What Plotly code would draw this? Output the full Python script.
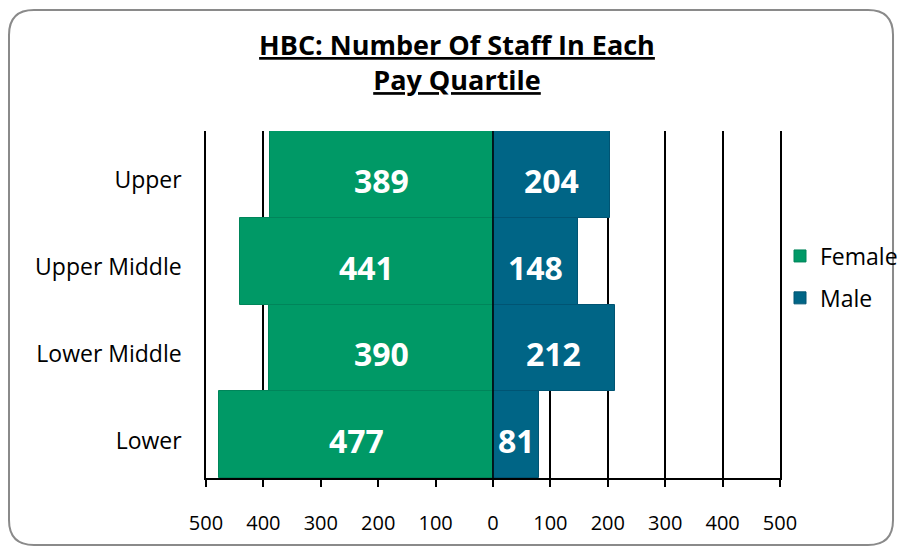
import plotly.graph_objects as go

# Pay quartiles, top to bottom as shown
quartiles = ["Upper", "Upper Middle", "Lower Middle", "Lower"]
female = [389, 441, 390, 477]
male = [204, 148, 212, 81]
tick_vals = [-500, -400, -300, -200, -100, 0, 100, 200, 300, 400, 500]
tick_text = ["500", "400", "300", "200", "100", "0", "100", "200", "300", "400", "500"]

GREEN = "#009966"
BLUE = "#006586"
FONT = "Open Sans"

W, H = 897, 547
L, T = 206, 131
R = W - 780
B = H - 478
pw, ph = W - L - R, H - T - B


def px(x):
    # screen pixel -> paper x
    return (x - L) / pw


def py(y):
    # screen pixel -> paper y
    return (H - B - y) / ph


def rounded_rect(x0, y0, x1, y1, r):
    pts = [
        ("M", x0 + r, y0), ("L", x1 - r, y0), ("Q", x1, y0, x1, y0 + r),
        ("L", x1, y1 - r), ("Q", x1, y1, x1 - r, y1),
        ("L", x0 + r, y1), ("Q", x0, y1, x0, y1 - r),
        ("L", x0, y0 + r), ("Q", x0, y0, x0 + r, y0),
    ]
    out = []
    for p in pts:
        cmd, coords = p[0], p[1:]
        xy = []
        for i in range(0, len(coords), 2):
            xy.append(f"{px(coords[i]):.4f},{py(coords[i + 1]):.4f}")
        out.append(cmd + " " + " ".join(xy))
    return " ".join(out) + " Z"


fig = go.Figure()
fig.add_trace(go.Bar(
    y=quartiles, x=[-v for v in female], orientation="h", name="Female", legendgroup="f",
    marker=dict(color=GREEN, line=dict(color="#00855a", width=1)),
))
fig.add_trace(go.Bar(
    y=quartiles, x=male, orientation="h", name="Male", legendgroup="m",
    marker=dict(color=BLUE, line=dict(color="#005473", width=1)),
))

# value labels, centred in each bar and nudged down a little like the original
labels = []
for q, f, m in zip(quartiles, female, male):
    for xv, val in ((-f / 2, f), (m / 2, m)):
        labels.append(dict(
            x=xv, y=q, xref="x", yref="y", text=str(val), showarrow=False,
            yshift=-6, font=dict(family=FONT, size=32, color="white", weight="bold"),
        ))

fig.update_layout(
    width=W, height=H,
    margin=dict(l=L, r=R, t=T, b=B, autoexpand=False),
    barmode="relative", bargap=0,
    paper_bgcolor="white", plot_bgcolor="white",
    font=dict(family=FONT, size=20, color="black"),
    title=dict(
        text="HBC: Number Of Staff In Each<br>Pay Quartile",
        x=457 / W, xanchor="center", y=1 - 55 / H, yanchor="middle",
        font=dict(family=FONT, size=27, weight="bold", lineposition="under", color="black"),
    ),
    legend=dict(
        x=px(780), xanchor="left", y=py(277), yanchor="middle",
        font=dict(family=FONT, size=23), tracegroupgap=9,
        itemwidth=30, bgcolor="rgba(0,0,0,0)",
    ),
    annotations=labels,
    shapes=[
        dict(type="line", xref="x", yref="paper", x0=0, x1=0, y0=0, y1=1,
             line=dict(color="black", width=1.5), layer="above"),
        dict(type="path", xref="paper", yref="paper", path=rounded_rect(9, 10, 893, 545, 25),
             line=dict(color="#8a8a8a", width=2)),
    ],
)
fig.update_xaxes(
    range=[-500, 500], tickvals=tick_vals, ticktext=tick_text,
    showgrid=True, gridcolor="black", gridwidth=1.5, zeroline=False,
    showline=True, linecolor="black", linewidth=2,
    ticks="outside", ticklen=7, tickwidth=1.5, tickcolor="black",
    ticklabelstandoff=19, tickfont=dict(size=20),
)
fig.update_yaxes(
    categoryorder="array", categoryarray=quartiles, autorange="reversed",
    showgrid=False, zeroline=False, showline=True, mirror=True,
    linecolor="black", linewidth=1.5, ticks="", ticklabelstandoff=18,
    ticklabelshift=-6, tickfont=dict(size=23),
)

# drop the default 8px page margin so the figure sits at the window corner
fig.write_html(
    "out.html",
    config={"displayModeBar": False},
    post_script="document.body.style.margin='0';",
)
